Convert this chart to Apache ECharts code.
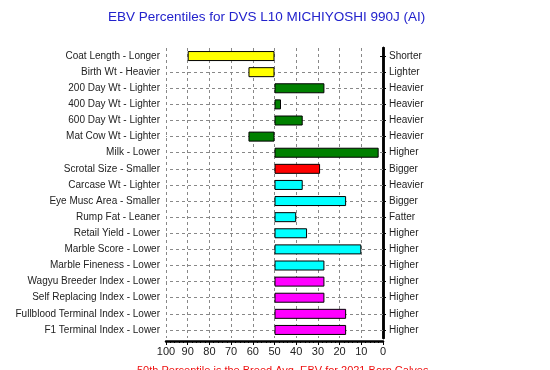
<!DOCTYPE html>
<html>
<head>
<meta charset="utf-8">
<script src="https://cdn.jsdelivr.net/npm/echarts@6/dist/echarts.min.js"></script>
<style>html,body{margin:0;padding:0;background:#fff;}#c{width:550px;height:370px;}</style>
</head>
<body>
<div id="c"></div>
<script>
const leftLabels = ['Coat Length - Longer','Birth Wt - Heavier','200 Day Wt - Lighter','400 Day Wt - Lighter','600 Day Wt - Lighter','Mat Cow Wt - Lighter','Milk - Lower','Scrotal Size - Smaller','Carcase Wt - Lighter','Eye Musc Area - Smaller','Rump Fat - Leaner','Retail Yield - Lower','Marble Score - Lower','Marble Fineness - Lower','Wagyu Breeder Index - Lower','Self Replacing Index - Lower','Fullblood Terminal Index - Lower','F1 Terminal Index - Lower'];
const rightLabels = ['Shorter','Lighter','Heavier','Heavier','Heavier','Heavier','Higher','Bigger','Heavier','Bigger','Fatter','Higher','Higher','Higher','Higher','Higher','Higher','Higher'];
const percentiles = [90,62,27,47,37,62,2,29,37,17,40,35,10,27,27,27,17,17];
const barColors = ['#FFFF00','#FFFF00','#008000','#008000','#008000','#008000','#008000','#FF0000','#00FFFF','#00FFFF','#00FFFF','#00FFFF','#00FFFF','#00FFFF','#FF00FF','#FF00FF','#FF00FF','#FF00FF'];
const xTicks = [0,10,20,30,40,50,60,70,80,90,100];
const average = 50;
const titleText = 'EBV Percentiles for DVS L10 MICHIYOSHI 990J (AI)';
const footText = '50th Percentile is the Breed Avg. EBV for 2021 Born Calves';

const chart = echarts.init(document.getElementById('c'), null, {renderer:'canvas'});
const baseData = percentiles.map(v => Math.min(v, average));
const spanData = percentiles.map((v,i) => ({value: Math.abs(v - average), itemStyle:{color: barColors[i]}}));
const font = 'Liberation Sans, Arial, sans-serif';

chart.setOption({
  animation: false,
  backgroundColor: '#ffffff',
  title: [
    {text: titleText, left: 103, top: 5,
     textStyle: {fontFamily: font, fontSize: 13.5, fontWeight: 'normal', color: '#2222CC'}},
    {text: footText, left: 137, top: 365, padding: 0,
     textStyle: {fontFamily: font, fontSize: 11, fontWeight: 'normal', color: '#EE1111'}}
  ],
  grid: {left: 166, right: 167, top: 48, bottom: 32, containLabel: false},
  xAxis: {
    type: 'value', inverse: true, min: 0, max: 100, interval: 10, offset: 3,
    axisLine: {show: true, onZero: false, lineStyle: {color: '#000', width: 2.5}},
    axisTick: {show: true, length: 4, lineStyle: {color: '#000'}},
    minorTick: {show: true, splitNumber: 5, length: 2, lineStyle: {color: '#000'}},
    axisLabel: {margin: 5, fontFamily: font, fontSize: 11, color: '#222',
      formatter: v => xTicks.includes(v) ? String(v) : ''},
    splitLine: {show: true, lineStyle: {color: '#888', type: [3,3], width: 1}}
  },
  yAxis: [
    {type: 'category', inverse: true, data: leftLabels, position: 'left',
     axisLine: {show: true, lineStyle: {color: '#000', width: 2.5}},
     axisTick: {show: true, inside: true, alignWithLabel: true, length: 3, lineStyle: {color: '#000'}},
     axisLabel: {margin: 6, fontFamily: font, fontSize: 10, color: '#222'},
     splitLine: {show: false}},
    {type: 'category', inverse: true, data: rightLabels, position: 'right',
     axisLine: {show: true, lineStyle: {color: '#000', width: 2.5}},
     axisTick: {show: true, inside: true, alignWithLabel: true, length: 3, lineStyle: {color: '#000'}},
     axisLabel: {margin: 6, fontFamily: font, fontSize: 10, color: '#222'},
     splitLine: {show: false}}
  ],
  series: [
    {type: 'bar', stack: 'p', yAxisIndex: 0, barWidth: 10, z: 2, silent: true,
     data: baseData, itemStyle: {color: 'rgba(0,0,0,0)', borderWidth: 0},
     markLine: {silent: true, symbol: 'none', z: 1, label: {show: false},
       lineStyle: {color: '#888', type: [3,3], width: 1},
       data: leftLabels.slice(1).map(c => ({yAxis: c}))}},
    {type: 'bar', stack: 'p', yAxisIndex: 0, barWidth: 10, z: 3, silent: true,
     data: spanData, itemStyle: {borderColor: '#000', borderWidth: 1}}
  ]
});
</script>
</body>
</html>
